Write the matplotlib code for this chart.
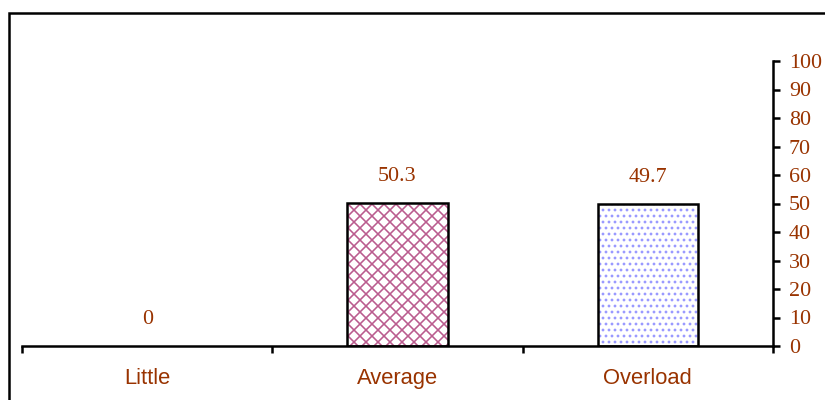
import matplotlib
matplotlib.use("Agg")
import matplotlib.pyplot as plt
from matplotlib.patches import Rectangle

# Data
categories = ["Little", "Average", "Overload"]
values = [0, 50.3, 49.7]
y_ticks = [0, 10, 20, 30, 40, 50, 60, 70, 80, 90, 100]

# Styling
text_color = "#993300"
hatches = ["", "xx", ".."]
hatch_colors = ["#FFFFFF", "#BA5C8E", "#9A9AFF"]

DPI = 72  # 1 pt == 1 px
W, H = 825, 400
plt.rcParams["hatch.linewidth"] = 1.6

fig = plt.figure(figsize=(W / DPI, H / DPI), dpi=DPI)
fig.patch.set_facecolor("white")

# outer chart border (runs off the right and bottom edges)
fig.patches.append(Rectangle((9 / W, -0.5), 2.0, 0.5 + (1 - 13 / H),
                             transform=fig.transFigure, fill=False,
                             edgecolor="black", linewidth=2.5))

ax = fig.add_axes([22 / W, 1 - 346 / H, (773 - 22) / W, (346 - 61) / H])
ax.set_facecolor("none")

x = list(range(len(categories)))
# hatched fill
ax.bar(x, values, width=0.4, color="white", edgecolor=hatch_colors,
       hatch=hatches, linewidth=0, zorder=2)
# black outline (skipped for empty bars)
outline_widths = [2.5 if v > 0 else 0 for v in values]
ax.bar(x, values, width=0.4, fill=False, edgecolor="black",
       linewidth=outline_widths, zorder=3)

for xi, v in zip(x, values):
    ax.annotate(f"{v:g}", (xi, v), xytext=(0, 22), textcoords="offset points",
                ha="center", va="baseline", color=text_color,
                fontsize=22, family="Liberation Serif")

ax.set_xlim(-0.5, 2.5)
ax.set_ylim(0, 100)

for side in ["top", "left"]:
    ax.spines[side].set_visible(False)
for side in ["bottom", "right"]:
    ax.spines[side].set_linewidth(2.5)

# y axis on the right
ax.yaxis.tick_right()
ax.set_yticks(y_ticks)
ax.tick_params(axis="y", direction="out", length=7, width=2.5, pad=9,
               labelsize=22, labelcolor=text_color)
for lbl in ax.get_yticklabels():
    lbl.set_family("Liberation Serif")

# x axis: ticks between categories, labels centred under each
ax.set_xticks([-0.5, 0.5, 1.5, 2.5])
ax.set_xticklabels([])
ax.set_xticks(x, minor=True)
ax.set_xticklabels(categories, minor=True)
ax.tick_params(axis="x", which="major", direction="out", length=7, width=2.5)
ax.tick_params(axis="x", which="minor", length=0, pad=22,
               labelsize=22, labelcolor=text_color)
for lbl in ax.get_xticklabels(minor=True):
    lbl.set_family("Liberation Sans")

fig.savefig("out.png", dpi=DPI)
